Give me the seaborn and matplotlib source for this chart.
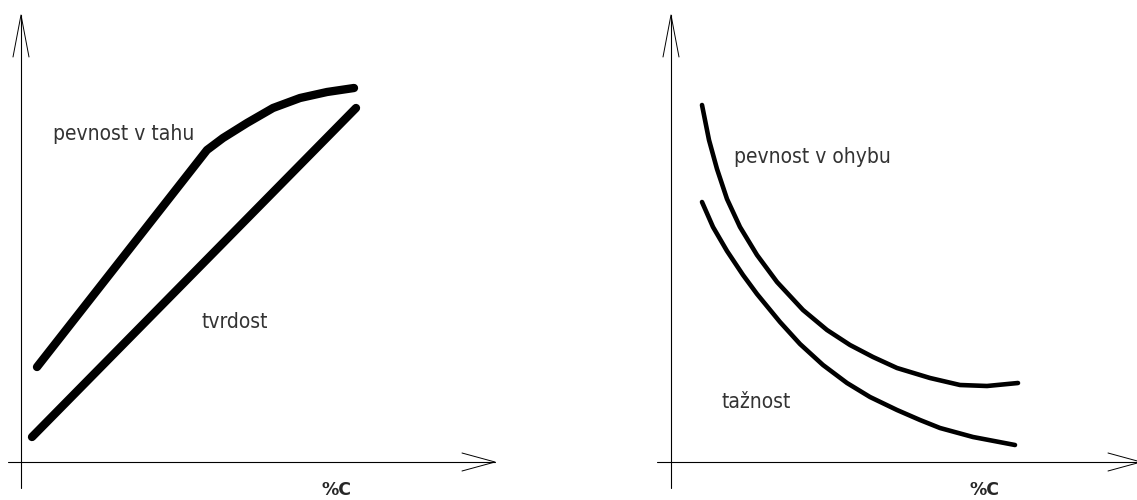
import matplotlib
matplotlib.use('Agg')
import matplotlib.pyplot as plt
import seaborn as sns

# hodnoty (pixely od počátku os)
tah_x = [16, 186, 202, 226, 252, 279, 306, 333]
tah_y = [95, 312, 324, 339, 354, 364, 370, 374]

tvrdost_x = [11, 335]
tvrdost_y = [25, 354]

ohyb_x = [31, 38, 46, 56, 69, 86, 106, 132, 156, 179, 202, 226, 259, 289, 316, 347]
ohyb_y = [357, 322, 293, 263, 235, 207, 180, 152, 132, 117, 105, 94, 84, 77, 76, 79]

taznost_x = [31, 42, 56, 72, 86, 109, 129, 152, 176, 199, 226, 249, 269, 302, 344]
taznost_y = [260, 235, 211, 187, 168, 140, 118, 97, 79, 65, 52, 42, 34, 25, 17]

sns.set_style('white')
plt.rcParams['font.family'] = ['DejaVu Sans']

fig = plt.figure(figsize=(11.37, 5), dpi=100)
ax1 = fig.add_axes([0, 0, 0.5, 1])
ax2 = fig.add_axes([0.5, 0, 0.5, 1])

popis = dict(fontsize=15, color='#333333', va='center', weight='light', stretch='condensed')


def osy(ax, x0, x1):
    # osa y a osa x s otevřenými šipkami
    ax.plot([0, 0], [-26, 447], color='black', lw=0.8)
    ax.plot([x0, x1], [0, 0], color='black', lw=0.8)
    ax.plot([-8, 0, 8], [405, 447, 405], color='black', lw=0.7)
    ax.plot([x1 - 33, x1, x1 - 33], [9, 0, -9], color='black', lw=0.7)


# levý graf
osy(ax1, -13, 474)
sns.lineplot(x=tah_x, y=tah_y, sort=False, ax=ax1, color='black', lw=6,
             solid_capstyle='round', solid_joinstyle='round')
sns.lineplot(x=tvrdost_x, y=tvrdost_y, sort=False, ax=ax1, color='black', lw=6,
             solid_capstyle='round')
ax1.text(32, 328, 'pevnost v tahu', **popis)
ax1.text(181, 140, 'tvrdost', **popis)
ax1.text(315, -28, '%C', fontsize=12.5, fontweight='bold', ha='center', va='center')
ax1.set_xlim(-21, 547.5)
ax1.set_ylim(-38, 462)
ax1.axis('off')

# pravý graf
osy(ax2, -14, 470)
sns.lineplot(x=ohyb_x, y=ohyb_y, sort=False, ax=ax2, color='black', lw=3.3,
             solid_capstyle='round', solid_joinstyle='round')
sns.lineplot(x=taznost_x, y=taznost_y, sort=False, ax=ax2, color='black', lw=3.3,
             solid_capstyle='round', solid_joinstyle='round')
ax2.text(63, 305, 'pevnost v ohybu', **popis)
ax2.text(51, 60, 'tažnost', **popis)
ax2.text(313, -28, '%C', fontsize=12.5, fontweight='bold', ha='center', va='center')
ax2.set_xlim(-102.5, 466)
ax2.set_ylim(-38, 462)
ax2.axis('off')

fig.savefig('out.png', dpi=100)
